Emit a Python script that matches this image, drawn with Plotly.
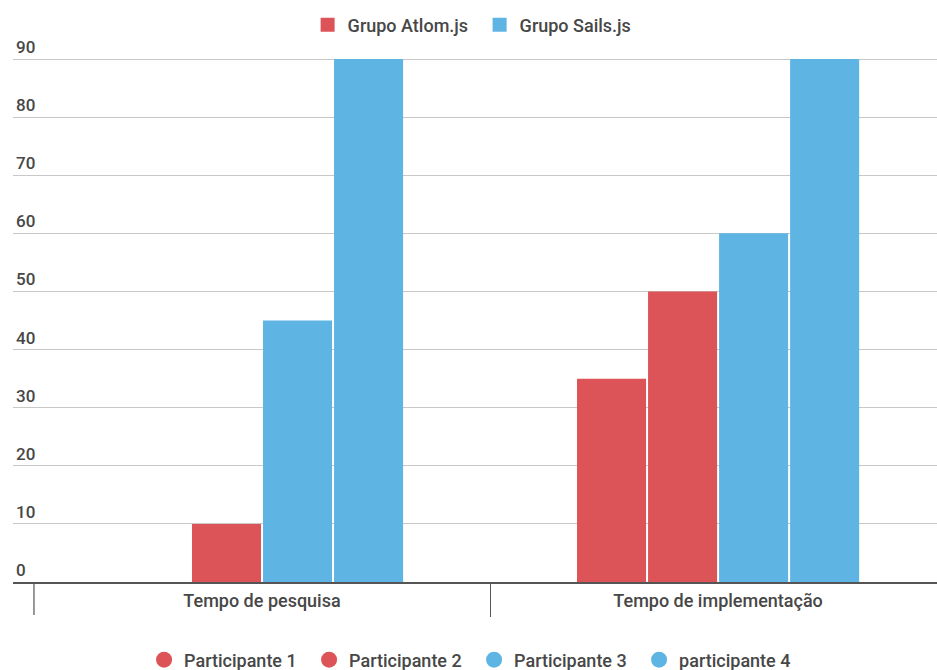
import plotly.graph_objects as go

categories = ["Tempo de pesquisa", "Tempo de implementação"]
participants = ["Participante 1", "Participante 2", "Participante 3", "participante 4"]
p1 = [0, 35]
p2 = [10, 50]
p3 = [45, 60]
p4 = [90, 90]
series = [p1, p2, p3, p4]
groups = ["Grupo Atlom.js", "Grupo Sails.js"]
y_ticks = [0, 10, 20, 30, 40, 50, 60, 70, 80, 90]

RED = "#DC5457"
BLUE = "#5EB5E4"
part_colors = [RED, RED, BLUE, BLUE]
group_colors = [RED, BLUE]
TXT = "#474747"
FONT = "Roboto"
PLOT_H = 552

fig = go.Figure()
for name, vals, col in zip(participants, series, part_colors):
    fig.add_trace(go.Bar(x=categories, y=vals, name=name, marker_color=col,
                         marker_line_width=0, showlegend=False))

# legend entries: groups (top) with squares
for g, col in zip(groups, group_colors):
    fig.add_trace(go.Scatter(x=[None], y=[None], mode="markers", name=g,
                             marker=dict(symbol="square", size=14, color=col),
                             legend="legend"))
# participants (bottom) with circles
for name, col in zip(participants, part_colors):
    fig.add_trace(go.Scatter(x=[None], y=[None], mode="markers", name=name,
                             marker=dict(symbol="circle", size=20, color=col),
                             legend="legend2"))

# left boundary tick of the category axis
fig.add_shape(type="line", xref="x", yref="paper", x0=-0.5, x1=-0.5, y0=0, y1=-33 / PLOT_H,
              line=dict(color="#555555", width=1.2))

fig.update_layout(
    width=937, height=670,
    margin=dict(l=13, r=0, t=30, b=88, autoexpand=False),
    paper_bgcolor="white", plot_bgcolor="white",
    font=dict(family=FONT, size=15, color=TXT),
    barmode="group", bargap=0.377, bargroupgap=0.028,
    showlegend=True,
    legend=dict(orientation="h", x=0.505, xanchor="center", y=(582 - 25) / PLOT_H, yanchor="middle",
                font=dict(family=FONT, size=18, color=TXT, weight=500), itemwidth=30,
                entrywidth=127, entrywidthmode="pixels",
                bgcolor="rgba(0,0,0,0)"),
    legend2=dict(orientation="h", x=0.499, xanchor="center", y=(582 - 660) / PLOT_H, yanchor="middle",
                 font=dict(family=FONT, size=18, color=TXT, weight=500), itemwidth=30,
                 entrywidth=120, entrywidthmode="pixels",
                 bgcolor="rgba(0,0,0,0)"),
)
fig.update_xaxes(
    type="category", range=[-0.546, 1.480], automargin=False,
    showline=True, linecolor="#555555", linewidth=2,
    ticks="outside", tickson="boundaries", ticklen=33, tickwidth=1.2, tickcolor="#555555",
    ticklabelstandoff=1,
    tickfont=dict(family=FONT, size=18, color=TXT, weight=500),
    showgrid=False, zeroline=False,
)
fig.update_yaxes(
    range=[0, 95], tickvals=y_ticks, automargin=False,
    showgrid=True, gridcolor="#c8c8c8", gridwidth=1,
    zeroline=False, showline=False,
    ticklabelposition="inside", ticklabelshift=-12,
    tickfont=dict(family=FONT, size=17, color=TXT, weight=500),
)
fig.write_html("out.html")
